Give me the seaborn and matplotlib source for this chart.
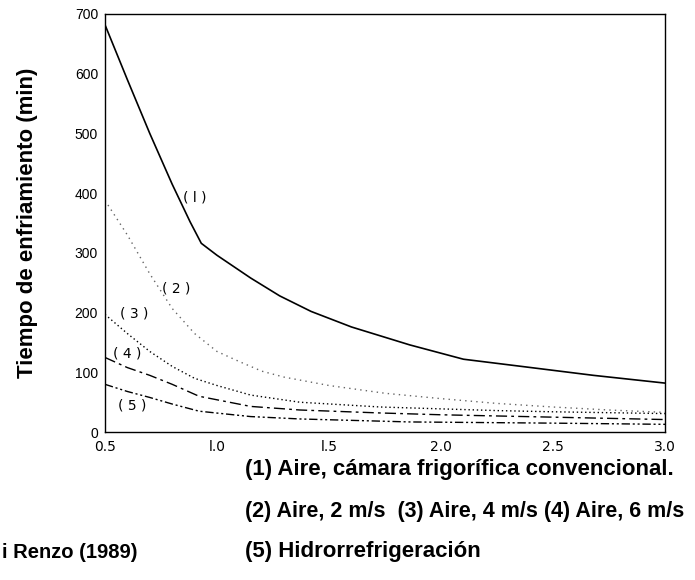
import pandas as pd
import seaborn as sns
import matplotlib.pyplot as plt

# Diámetro (x) vs tiempo de enfriamiento (min)
x1 = [0.5, 0.6, 0.7, 0.8, 0.88, 0.93, 1.0, 1.15, 1.28, 1.42, 1.6, 1.86, 2.1, 2.38, 2.68, 3.0]
y1 = [682, 590, 500, 415, 352, 316, 296, 258, 228, 202, 176, 146, 122, 109, 95, 82]

x2 = [0.5, 0.6, 0.7, 0.8, 0.9, 1.0, 1.1, 1.2, 1.3, 1.5, 1.75, 2.0, 2.25, 2.5, 2.75, 3.0]
y2 = [388, 330, 265, 207, 165, 135, 118, 102, 92, 78, 65, 56, 48, 42, 37, 33]

x3 = [0.5, 0.6, 0.7, 0.8, 0.9, 1.0, 1.15, 1.37, 1.73, 2.25, 2.5, 3.0]
y3 = [197, 165, 135, 110, 90, 78, 62, 50, 42, 36, 34, 31]

x4 = [0.5, 0.6, 0.7, 0.8, 0.92, 1.15, 1.37, 1.73, 2.0, 2.5, 3.0]
y4 = [125, 108, 95, 80, 60, 43, 37, 32, 29, 25, 21]

x5 = [0.5, 0.6, 0.7, 0.8, 0.92, 1.15, 1.37, 1.86, 2.5, 3.0]
y5 = [80, 68, 58, 47, 35, 26, 22, 17, 15, 13]

curve_labels = ["( l )", "( 2 )", "( 3 )", "( 4 )", "( 5 )"]
label_x = [0.90, 0.82, 0.63, 0.60, 0.62]
label_y = [392, 241, 198, 132, 44]

xticks = [0.5, 1.0, 1.5, 2.0, 2.5, 3.0]
xticklabels = ["0.5", "l.0", "l.5", "2.0", "2.5", "3.0"]
yticks = [0, 100, 200, 300, 400, 500, 600, 700]

sns.set_style("white")
plt.rcParams['font.family'] = ['Liberation Sans', 'DejaVu Sans']
plt.rcParams['text.color'] = 'black'
plt.rcParams['xtick.color'] = 'black'
plt.rcParams['ytick.color'] = 'black'
plt.rcParams['axes.labelcolor'] = 'black'

fig = plt.figure(figsize=(6.95, 5.8), dpi=100)
ax = fig.add_axes([0.151, 0.255, 0.806, 0.721])

styles = [
    dict(color="black", linestyle="-", linewidth=1.2),
    dict(color="0.4", linestyle=(0, (1, 3)), linewidth=1.0),
    dict(color="black", linestyle=(0, (1, 2)), linewidth=1.0),
    dict(color="black", linestyle=(0, (8, 3, 2, 3)), linewidth=1.0),
    dict(color="black", linestyle=(0, (6, 2, 1.5, 2, 1.5, 2)), linewidth=1.0),
]
series = [(x1, y1), (x2, y2), (x3, y3), (x4, y4), (x5, y5)]
for (xs, ys), st in zip(series, styles):
    sns.lineplot(x=xs, y=ys, ax=ax, **st)

for lab, lx, ly in zip(curve_labels, label_x, label_y):
    ax.text(lx, ly, lab, fontsize=10, ha="center", va="center",
            family=["DejaVu Sans"], color="black")

ax.set_xlim(0.5, 3.0)
ax.set_ylim(0, 700)
ax.set_xticks(xticks)
ax.set_xticklabels(xticklabels, family=["DejaVu Sans"], fontsize=10)
ax.set_yticks(yticks)
ax.tick_params(axis="x", direction="in", length=5, pad=6)
ax.tick_params(axis="y", direction="out", length=3, pad=2, labelsize=10)
for sp in ax.spines.values():
    sp.set_color("black")
    sp.set_linewidth(1.0)

ax.set_ylabel("Tiempo de enfriamiento (min)", fontsize=16, fontweight="bold")
ax.yaxis.set_label_coords(-0.12, 0.5)

fig.text(245 / 695, 1 - 470 / 580, "(1) Aire, cámara frigorífica convencional.",
         fontsize=16, fontweight="bold", va="center", ha="left")
fig.text(245 / 695, 1 - 511 / 580, "(2) Aire, 2 m/s  (3) Aire, 4 m/s (4) Aire, 6 m/s",
         fontsize=15.5, fontweight="bold", va="center", ha="left")
fig.text(245 / 695, 1 - 552 / 580, "(5) Hidrorrefrigeración",
         fontsize=16, fontweight="bold", va="center", ha="left")
fig.text(2 / 695, 1 - 552 / 580, "i Renzo (1989)",
         fontsize=14.5, fontweight="bold", va="center", ha="left")

plt.savefig("out.png", dpi=100)
